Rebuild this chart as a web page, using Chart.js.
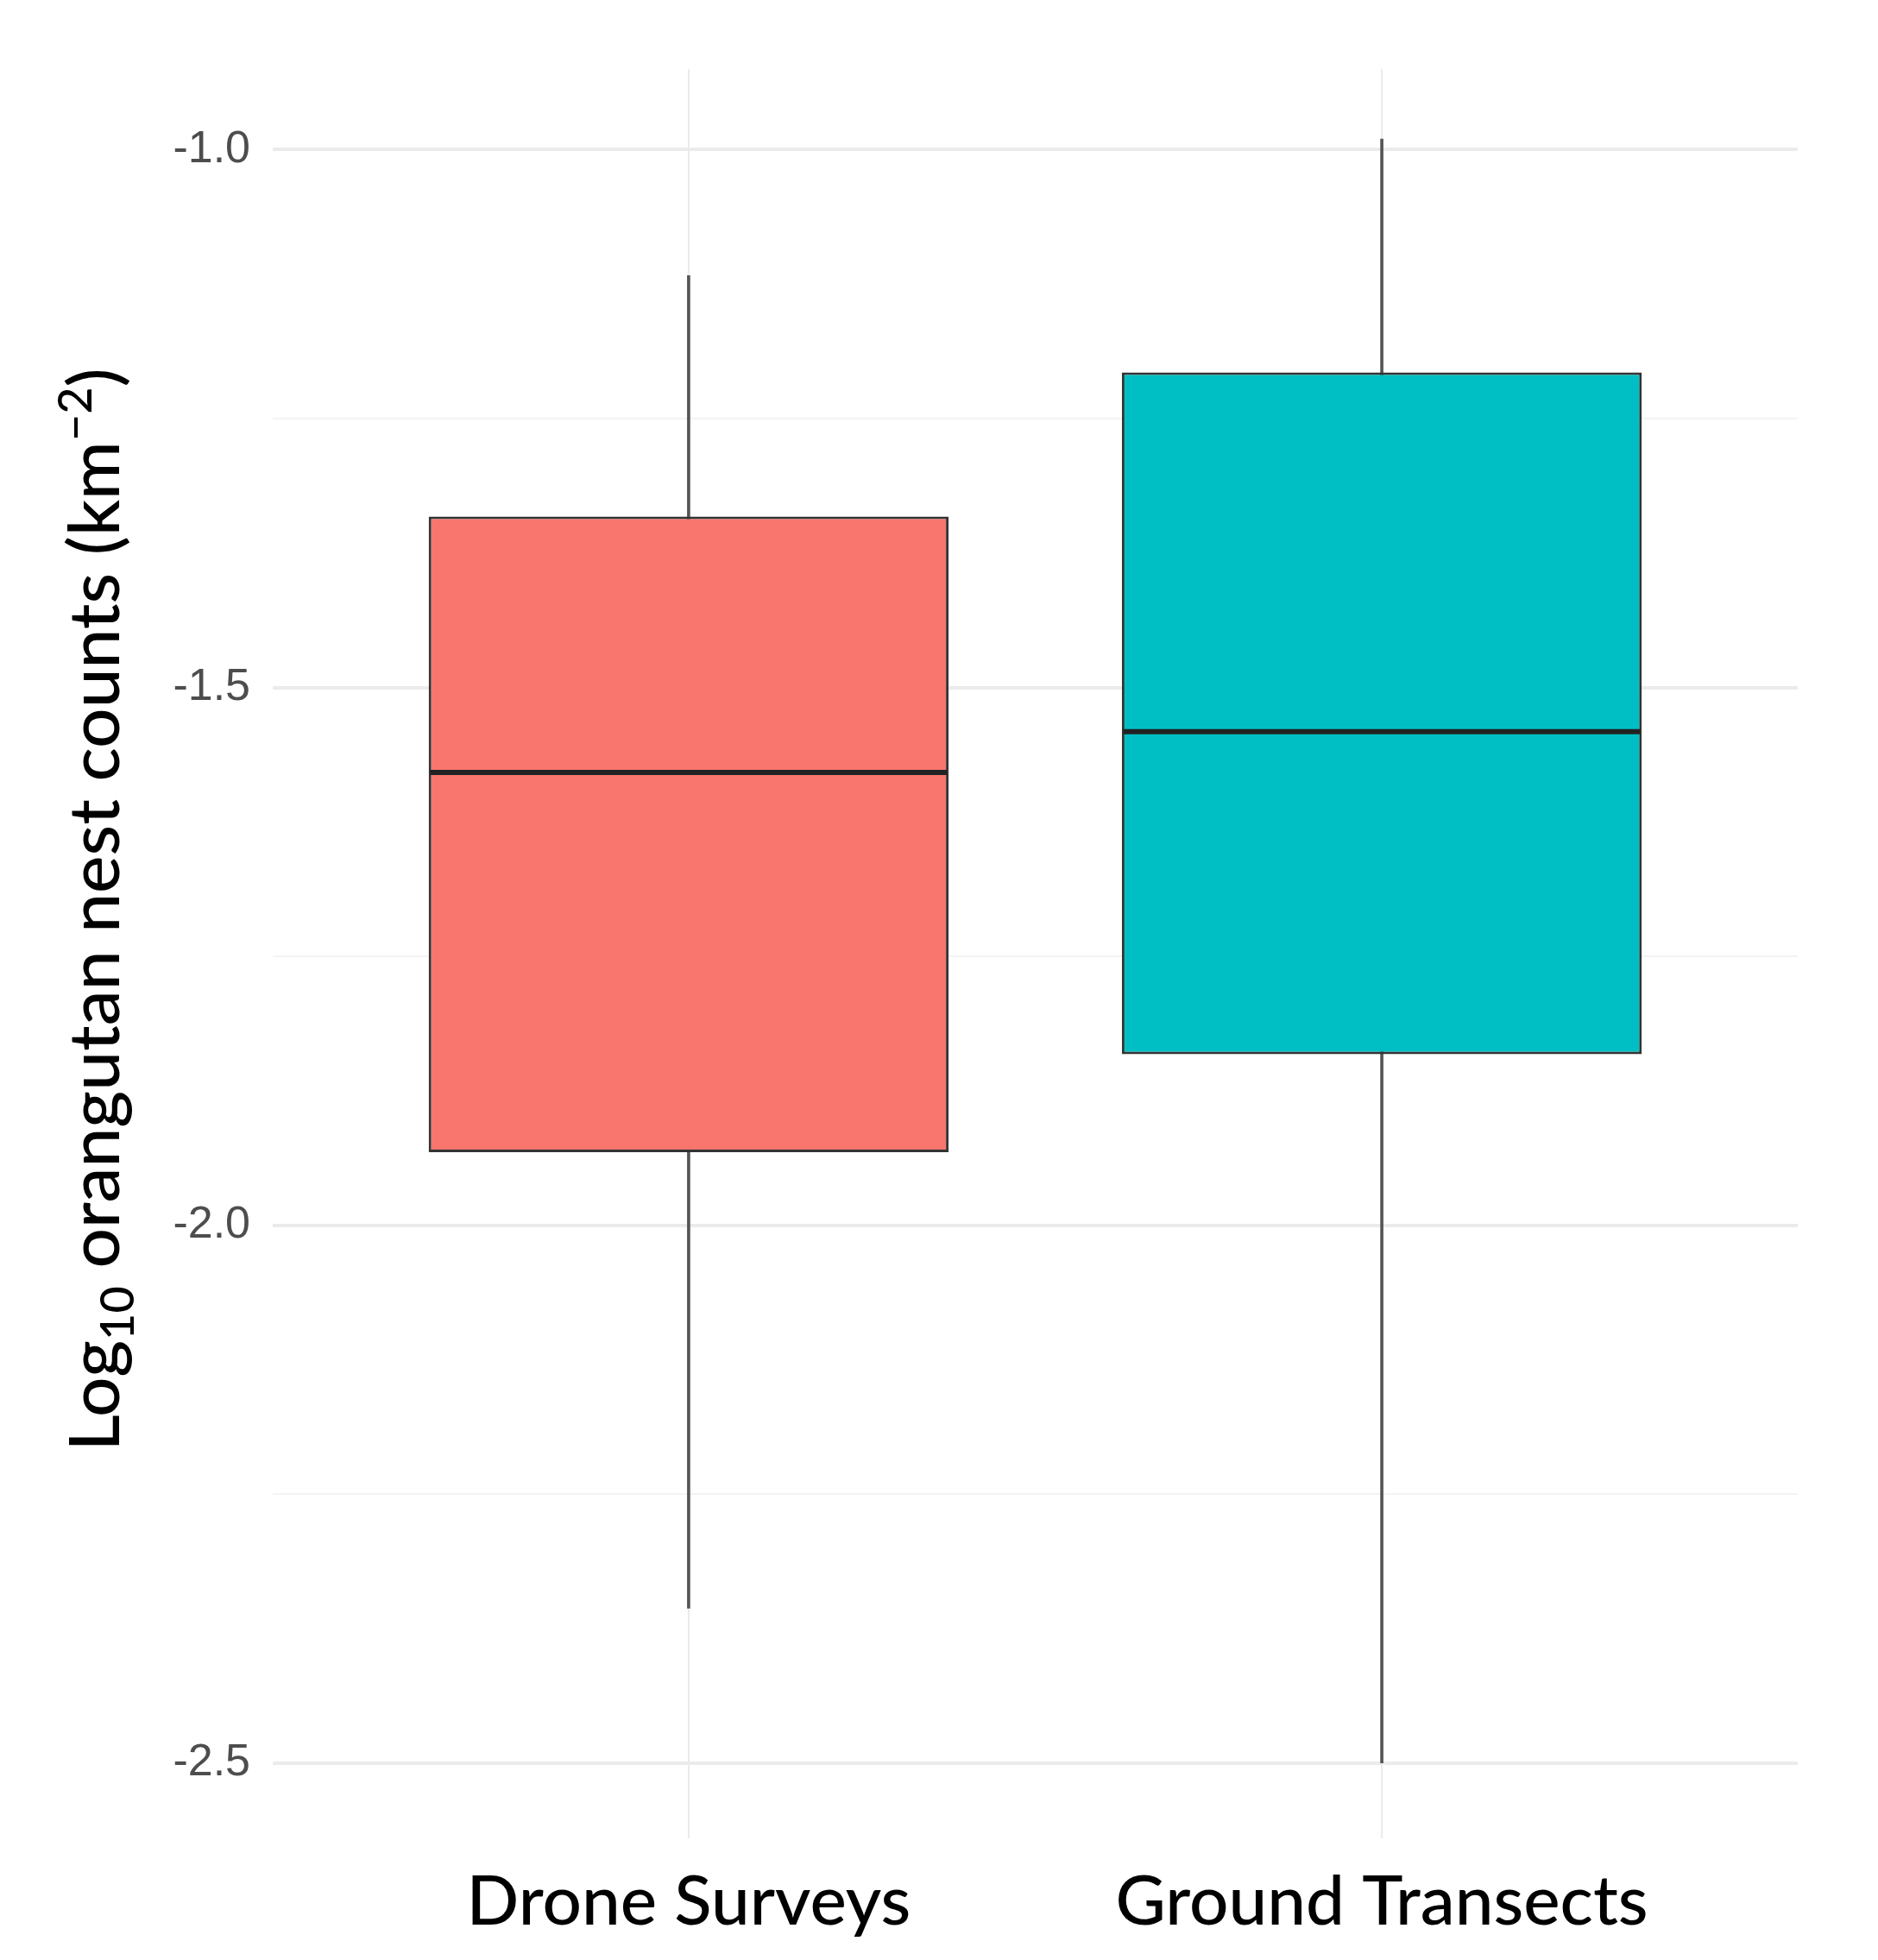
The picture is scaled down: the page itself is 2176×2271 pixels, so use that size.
<!DOCTYPE html>
<html>
<head>
<meta charset="utf-8">
<script src="https://cdn.jsdelivr.net/npm/chart.js@4"></script>
<style>
  html, body { margin: 0; padding: 0; background: #fff; }
  #wrap { width: 2176px; height: 2271px; position: relative; }
</style>
</head>
<body>
<div id="wrap"><canvas id="nests"></canvas></div>
<script>
// values (log10 nest counts per km2)
const categories = ["Drone Surveys", "Ground Transects"];
const whiskerLow = [-2.356, -2.5];
const q1 = [-1.932, -1.841];
const median = [-1.579, -1.541];
const q3 = [-1.341, -1.207];
const whiskerHigh = [-1.117, -0.99];
const boxColours = ["#F8766D", "#00BFC4"];
const yTicks = [-2.5, -2.25, -2.0, -1.75, -1.5, -1.25, -1.0];

const xPos = categories.map((c, i) => i + 1);

// median line + rotated y title with sub/superscript
const boxExtras = {
  id: "boxExtras",
  afterDatasetsDraw(chart) {
    const ctx = chart.ctx;
    const y = chart.scales.y;
    const meta = chart.getDatasetMeta(0);
    ctx.save();
    ctx.strokeStyle = "#222";
    ctx.lineWidth = 6;
    meta.data.forEach((bar, i) => {
      const py = y.getPixelForValue(median[i]);
      ctx.beginPath();
      ctx.moveTo(bar.x - bar.width / 2 + 2, py);
      ctx.lineTo(bar.x + bar.width / 2 - 2, py);
      ctx.stroke();
    });
    ctx.restore();
  },
  afterDraw(chart) {
    const ctx = chart.ctx;
    const size = 82;
    const small = 54;
    const parts = [
      { t: "Log", f: size, dy: 0 },
      { t: "10", f: small, dy: 17 },
      { t: " orangutan nest counts (km", f: size, dy: 0 },
      { t: "\u22122", f: small, dy: -32 },
      { t: ")", f: size, dy: 0 },
    ];
    ctx.save();
    let total = 0;
    parts.forEach((p) => {
      ctx.font = "500 " + p.f + "px Lato";
      p.w = ctx.measureText(p.t).width;
      total += p.w;
    });
    ctx.translate(138, 1054);
    ctx.rotate(-Math.PI / 2);
    ctx.fillStyle = "#000";
    ctx.textBaseline = "alphabetic";
    let x = -total / 2;
    parts.forEach((p) => {
      ctx.font = "500 " + p.f + "px Lato";
      ctx.fillText(p.t, x, p.dy);
      x += p.w;
    });
    ctx.restore();
  },
};

new Chart(document.getElementById("nests"), {
  type: "bar",
  data: {
    datasets: [
      {
        label: "box",
        data: xPos.map((x, i) => ({ x, y: [q1[i], q3[i]] })),
        backgroundColor: boxColours,
        borderColor: "#333",
        borderWidth: 3,
        borderSkipped: false,
        grouped: false,
        categoryPercentage: 1,
        barPercentage: 0.75,
        order: 1,
      },
      {
        label: "whisker",
        data: xPos.map((x, i) => ({ x, y: [whiskerLow[i], whiskerHigh[i]] })),
        backgroundColor: "#555",
        borderWidth: 0,
        grouped: false,
        barThickness: 3,
        order: 2,
      },
    ],
  },
  options: {
    responsive: true,
    maintainAspectRatio: false,
    animation: false,
    layout: { padding: { top: 80, right: 93, left: 0, bottom: 0 } },
    plugins: {
      legend: { display: false },
      tooltip: { enabled: false },
    },
    scales: {
      x: {
        type: "linear",
        min: 0.4,
        max: 2.6,
        offset: false,
        afterBuildTicks: (scale) => {
          scale.ticks = xPos.map((v) => ({ value: v }));
        },
        afterFit: (scale) => {
          scale.height = 141;
        },
        ticks: {
          callback: (v) => categories[v - 1] || "",
          font: { family: "Lato", size: 80, weight: "500" },
          color: "#000",
          padding: 26,
          maxRotation: 0,
          autoSkip: false,
        },
        grid: { color: "#ebebeb", lineWidth: 2, drawTicks: false, offset: false },
        border: { display: false },
      },
      y: {
        min: -2.57,
        max: -0.925,
        afterBuildTicks: (scale) => {
          scale.ticks = yTicks.map((v) => ({ value: v }));
        },
        afterFit: (scale) => {
          scale.width = 316;
        },
        ticks: {
          callback: (v) => (Math.abs(v * 2 - Math.round(v * 2)) < 1e-6 ? v.toFixed(1) : ""),
          font: { family: "Liberation Sans", size: 52 },
          color: "#4d4d4d",
          padding: 26,
        },
        grid: {
          color: (c) => (Math.abs(c.tick.value * 2 - Math.round(c.tick.value * 2)) < 1e-6 ? "#ebebeb" : "#f3f3f3"),
          lineWidth: (c) => (Math.abs(c.tick.value * 2 - Math.round(c.tick.value * 2)) < 1e-6 ? 4 : 2),
          drawTicks: false,
        },
        border: { display: false },
      },
    },
  },
  plugins: [boxExtras],
});
</script>
</body>
</html>
